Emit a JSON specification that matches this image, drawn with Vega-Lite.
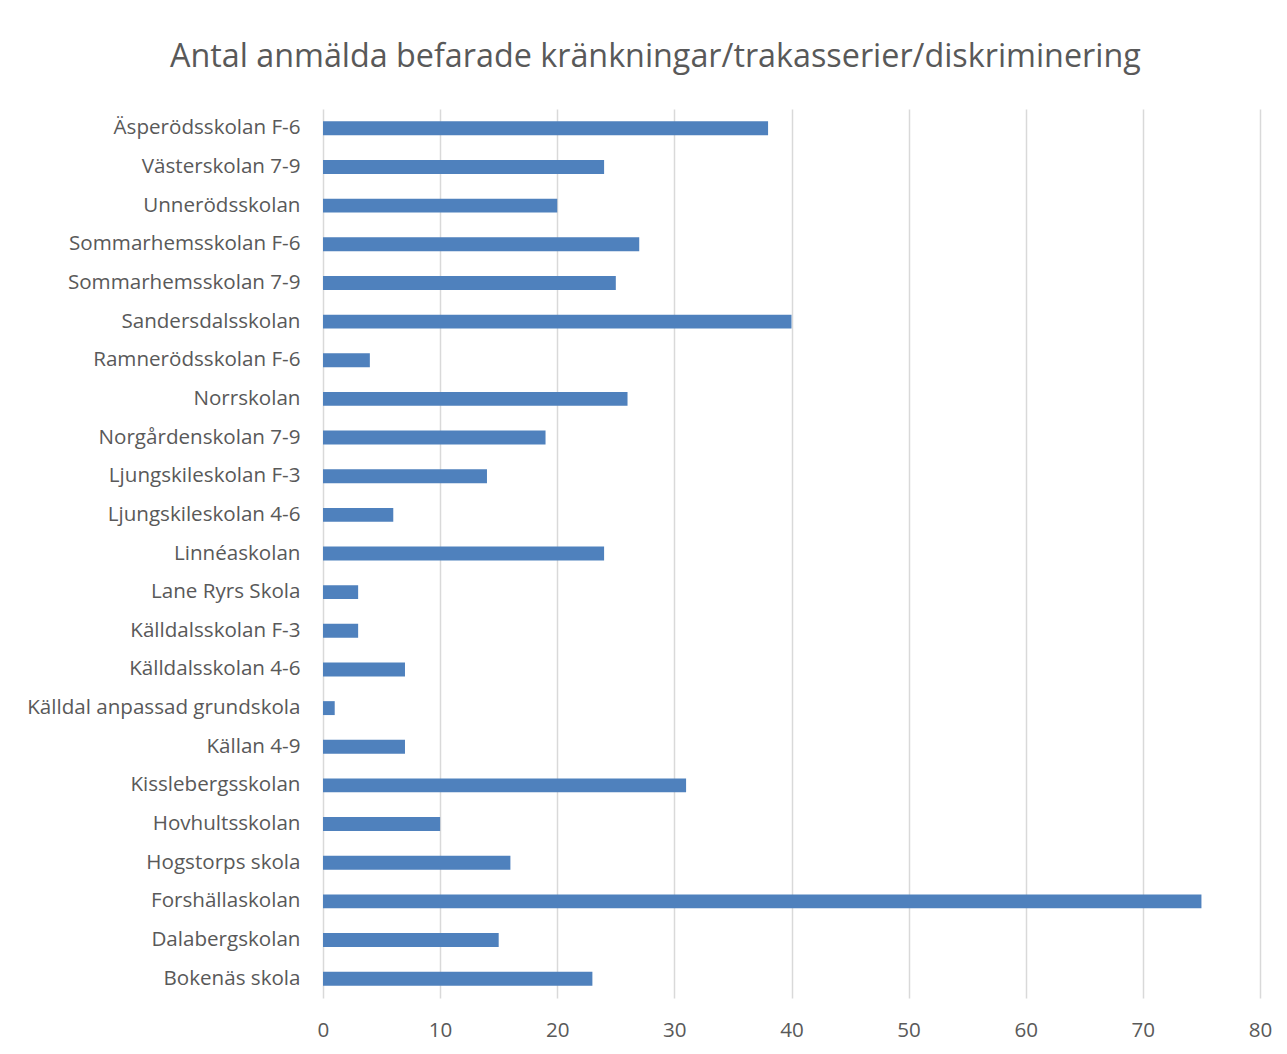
{
  "$schema": "https://vega.github.io/schema/vega-lite/v6.json",
  "autosize": "none",
  "width": 937,
  "height": 889,
  "padding": {"left": 323, "top": 109, "right": 27, "bottom": 56},
  "background": "white",
  "title": {
    "text": "Antal anmälda befarade kränkningar/trakasserier/diskriminering",
    "anchor": "start",
    "frame": "group",
    "dx": -153,
    "offset": 36,
    "font": "Open Sans",
    "fontSize": 32.3,
    "fontWeight": "normal",
    "color": "#595959"
  },
  "data": {
    "values": [
      {"skola": "Äsperödsskolan F-6", "antal": 38},
      {"skola": "Västerskolan 7-9", "antal": 24},
      {"skola": "Unnerödsskolan", "antal": 20},
      {"skola": "Sommarhemsskolan F-6", "antal": 27},
      {"skola": "Sommarhemsskolan 7-9", "antal": 25},
      {"skola": "Sandersdalsskolan", "antal": 40},
      {"skola": "Ramnerödsskolan F-6", "antal": 4},
      {"skola": "Norrskolan", "antal": 26},
      {"skola": "Norgårdenskolan 7-9", "antal": 19},
      {"skola": "Ljungskileskolan F-3", "antal": 14},
      {"skola": "Ljungskileskolan 4-6", "antal": 6},
      {"skola": "Linnéaskolan", "antal": 24},
      {"skola": "Lane Ryrs Skola", "antal": 3},
      {"skola": "Källdalsskolan F-3", "antal": 3},
      {"skola": "Källdalsskolan 4-6", "antal": 7},
      {"skola": "Källdal anpassad grundskola", "antal": 1},
      {"skola": "Källan 4-9", "antal": 7},
      {"skola": "Kisslebergsskolan", "antal": 31},
      {"skola": "Hovhultsskolan", "antal": 10},
      {"skola": "Hogstorps skola", "antal": 16},
      {"skola": "Forshällaskolan", "antal": 75},
      {"skola": "Dalabergskolan", "antal": 15},
      {"skola": "Bokenäs skola", "antal": 23}
    ]
  },
  "mark": {"type": "bar", "color": "#4F81BD"},
  "encoding": {
    "y": {
      "field": "skola",
      "type": "nominal",
      "sort": null,
      "scale": {"paddingInner": 0.64, "paddingOuter": 0.32},
      "axis": {
        "title": null,
        "domain": false,
        "ticks": false,
        "labelPadding": 23,
        "labelFont": "Open Sans",
        "labelFontSize": 20.6,
        "labelColor": "#595959",
        "labelLimit": 400
      }
    },
    "x": {
      "field": "antal",
      "type": "quantitative",
      "scale": {"domain": [0, 80], "nice": false},
      "axis": {
        "title": null,
        "values": [0, 10, 20, 30, 40, 50, 60, 70, 80],
        "domain": false,
        "ticks": false,
        "grid": true,
        "gridColor": "#d9d9d9",
        "gridWidth": 1.5,
        "labelFlush": false,
        "labelPadding": 22,
        "labelFont": "Open Sans",
        "labelFontSize": 20.6,
        "labelColor": "#595959"
      }
    }
  },
  "config": {"view": {"stroke": null}}
}
